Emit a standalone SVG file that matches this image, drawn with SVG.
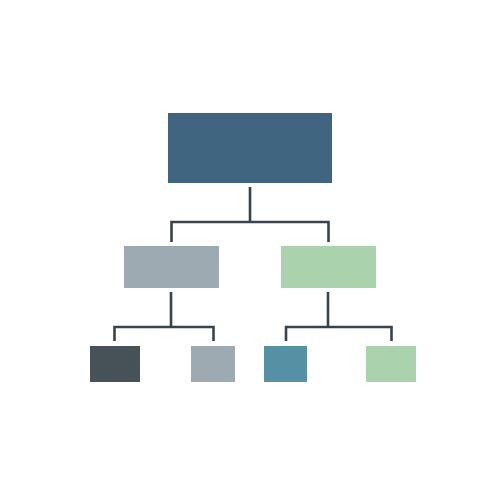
<svg xmlns="http://www.w3.org/2000/svg" width="500" height="500" viewBox="0 0 500 500">
<style>
.c{fill:none;stroke:#37444e;stroke-width:2.6;stroke-linecap:butt;stroke-linejoin:miter}
</style>
<rect width="500" height="500" fill="#ffffff"/>
<g id="connectors">
<path class="c" d="M250,187V222M171.5,242V222H328.5V242"/>
<path class="c" d="M171,292V327M114.5,341V327H213.5V341"/>
<path class="c" d="M328,292V327M286,341V327H391.5V341"/>
</g>
<g id="top"><rect x="168" y="113" width="164" height="70" fill="#3f6580"/></g>
<g id="mid-left"><rect x="124" y="246" width="95" height="42" fill="#9eaab1"/></g>
<g id="mid-right"><rect x="281" y="246" width="95" height="42" fill="#a9d2ad"/></g>
<g id="leaf-1"><rect x="90" y="346" width="50" height="36" fill="#465158"/></g>
<g id="leaf-2"><rect x="191" y="346" width="44" height="36" fill="#9eaab1"/></g>
<g id="leaf-3"><rect x="264" y="346" width="43" height="36" fill="#5590a5"/></g>
<g id="leaf-4"><rect x="366" y="346" width="50" height="36" fill="#a9d2ad"/></g>
</svg>
